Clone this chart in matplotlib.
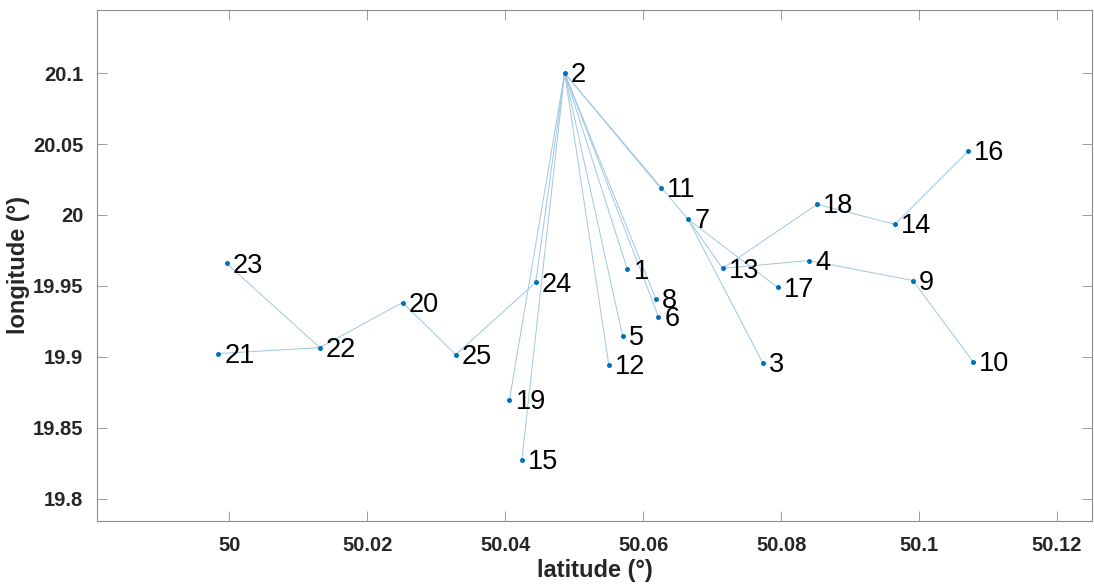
import numpy as np
import matplotlib
matplotlib.use('Agg')
import matplotlib.pyplot as plt

plt.rcParams['font.family'] = ['Liberation Sans', 'DejaVu Sans']

# node coordinates, indexed 1..25
ids = list(range(1, 26))
lat = [50.0577, 50.0486, 50.0773, 50.0840, 50.0570, 50.0622, 50.0665, 50.0618,
       50.0991, 50.1078, 50.0625, 50.0550, 50.0715, 50.0965, 50.0424, 50.1071,
       50.0795, 50.0852, 50.0406, 50.0251, 49.9984, 50.0131, 49.9996, 50.0444,
       50.0328]
lon = [19.9616, 20.1000, 19.8959, 19.9679, 19.9150, 19.9284, 19.9969, 19.9411,
       19.9538, 19.8966, 20.0188, 19.8945, 19.9623, 19.9934, 19.8274, 20.0449,
       19.9489, 20.0075, 19.8698, 19.9383, 19.9023, 19.9065, 19.9658, 19.9524,
       19.9016]

# tree edges
edges = [(2, 1), (2, 5), (2, 6), (2, 8), (2, 12), (2, 15), (2, 19), (2, 24),
         (2, 11), (2, 7), (7, 13), (7, 17), (7, 3), (13, 4), (13, 18),
         (4, 9), (9, 10), (18, 14), (14, 16), (24, 25), (25, 20), (20, 22),
         (22, 21), (22, 23)]

xticks = [50, 50.02, 50.04, 50.06, 50.08, 50.1, 50.12]
xticklabels = ['50', '50.02', '50.04', '50.06', '50.08', '50.1', '50.12']
yticks = [19.8, 19.85, 19.9, 19.95, 20, 20.05, 20.1]
yticklabels = ['19.8', '19.85', '19.9', '19.95', '20', '20.05', '20.1']

fig = plt.figure(figsize=(10.94, 5.88), dpi=100)
ax = fig.add_axes([0.0887, 0.1145, 0.9097, 0.8685])

for a, b in edges:
    ax.plot([lat[a - 1], lat[b - 1]], [lon[a - 1], lon[b - 1]],
            color='#9dc8e0', lw=0.7, zorder=1)

ax.plot(lat, lon, 'o', ms=3.6, color='#0072BD', mec='none', zorder=2)

for i, x, y in zip(ids, lat, lon):
    ax.annotate(str(i), (x, y), xytext=(4.5, -1.5), textcoords='offset points',
                ha='left', va='center', fontsize=19.5, color='black')

ax.set_xlim(49.9808, 50.1251)
ax.set_ylim(19.7845, 20.1445)
ax.set_xticks(xticks)
ax.set_xticklabels(xticklabels)
ax.set_yticks(yticks)
ax.set_yticklabels(yticklabels)

ax.tick_params(direction='in', length=7, width=0.6, color='#8c8c8c',
               top=True, right=True, labelsize=14.5, labelcolor='#262626')
ax.tick_params(axis='x', pad=11)
ax.tick_params(axis='y', pad=10)
for lab in ax.get_xticklabels() + ax.get_yticklabels():
    lab.set_fontweight('bold')
for sp in ax.spines.values():
    sp.set_color('#8c8c8c')
    sp.set_linewidth(0.8)

ax.set_xlabel('latitude (°)', fontsize=17, fontweight='bold', color='#262626', labelpad=3)
ax.set_ylabel('longitude (°)', fontsize=17, fontweight='bold', color='#262626', labelpad=2)

fig.savefig('out.png', dpi=100)
